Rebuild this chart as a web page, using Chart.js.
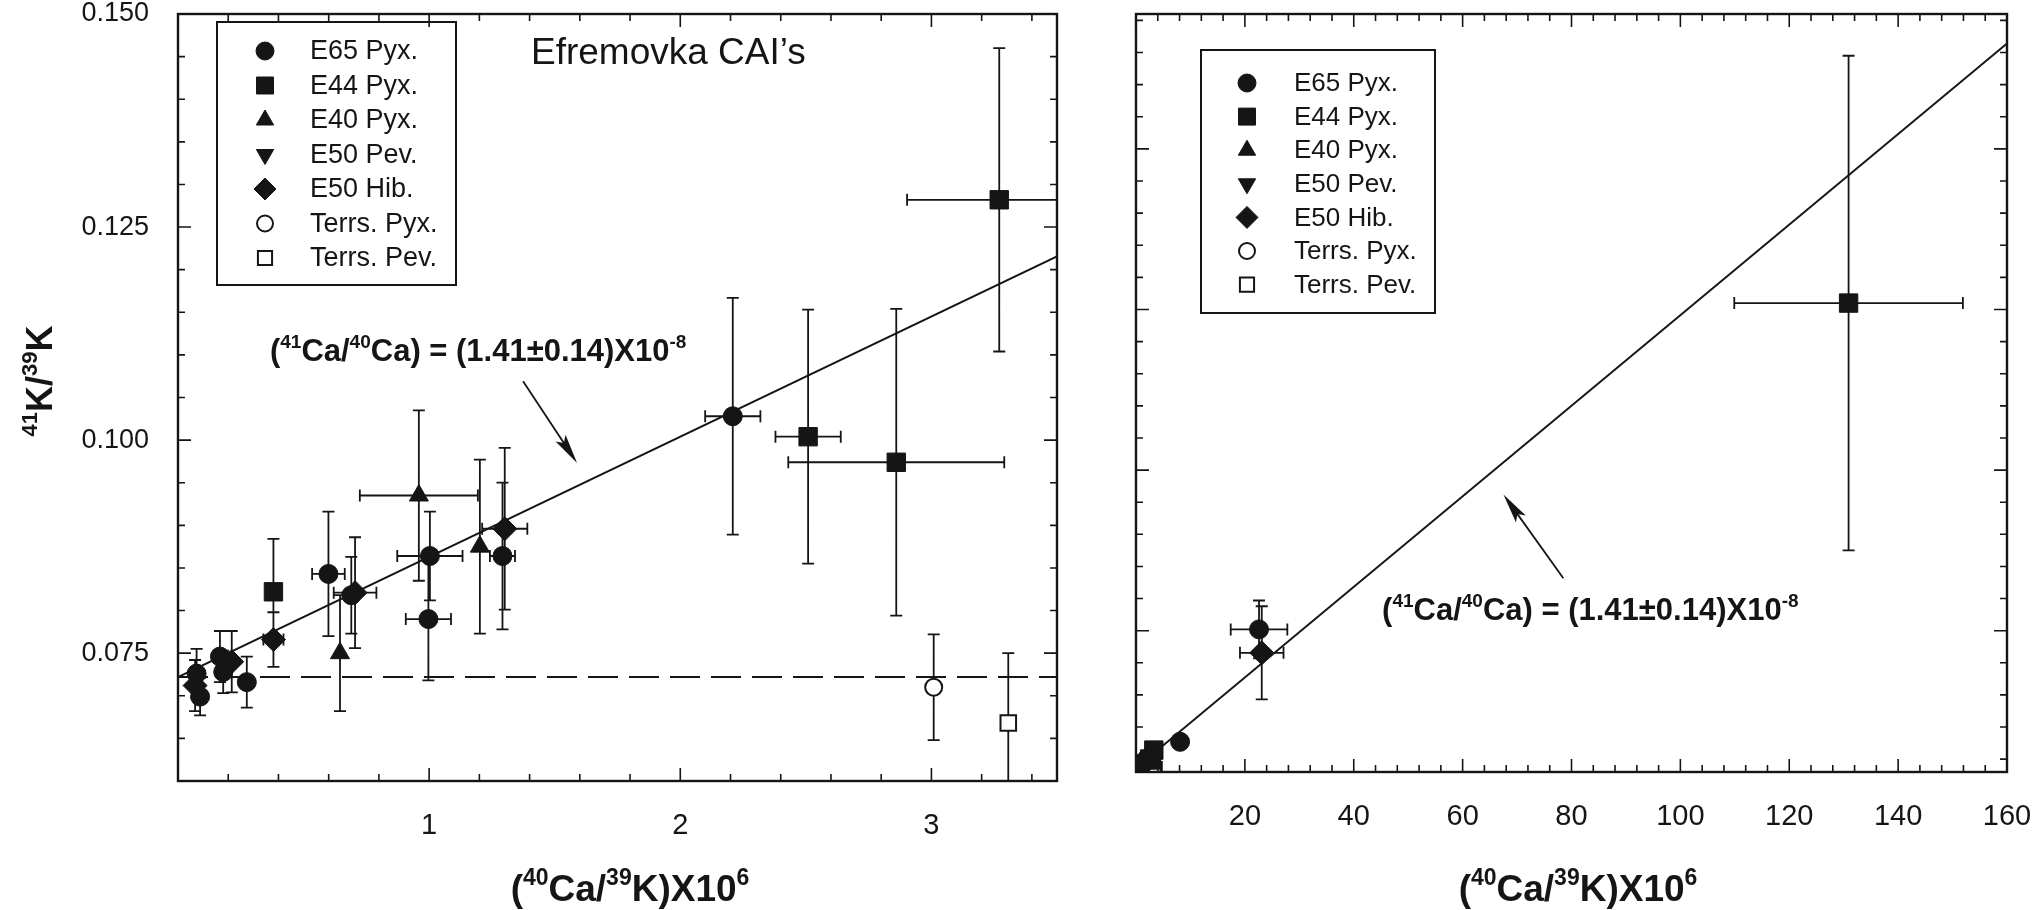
<!DOCTYPE html>
<html lang="en">
<head>
<meta charset="utf-8">
<title>41K/39K vs 40Ca/39K</title>
<script src="https://cdn.jsdelivr.net/npm/chart.js@4.4.1/dist/chart.umd.min.js"></script>
<style>
  html, body { margin: 0; padding: 0; background: #ffffff; }
  body { position: relative; width: 2043px; height: 910px; overflow: hidden; }
  canvas { position: absolute; top: 0; }
  #isochronLow { left: 0; }
  #isochronHigh { left: 1100px; }
</style>
</head>
<body>
<canvas id="isochronLow" width="1100" height="910"></canvas>
<canvas id="isochronHigh" width="943" height="910"></canvas>
<script>
const ink = '#151515';
const sans = '"Liberation Sans", Arial, Helvetica, sans-serif';

// Legend order
const seriesNames = ['E65 Pyx.', 'E44 Pyx.', 'E40 Pyx.', 'E50 Pev.', 'E50 Hib.', 'Terrs. Pyx.', 'Terrs. Pev.'];

// Measurements: [40Ca/39K x1e6, 41K/39K, x error, y error]
const e65Pyx = [
  [0.074, 0.0726, 0, 0.0029],
  [0.088, 0.0699, 0, 0.0022],
  [0.167, 0.0746, 0, 0.0030],
  [0.180, 0.0728, 0, 0.0025],
  [0.274, 0.0716, 0, 0.0030],
  [0.599, 0.0843, 0.065, 0.0073],
  [0.690, 0.0818, 0, 0.0045],
  [1.003, 0.0864, 0.13, 0.0052],
  [0.997, 0.0790, 0.09, 0.0072],
  [1.292, 0.0864, 0.05, 0.0086],
  [2.209, 0.1028, 0.11, 0.0139],
];
const e44Pyx = [
  [0.380, 0.0822, 0, 0.0062],
  [2.509, 0.1004, 0.13, 0.0149],
  [2.860, 0.0974, 0.43, 0.0180],
  [3.270, 0.1282, 0.367, 0.0178],
];
const e40Pyx = [
  [0.645, 0.0750, 0, 0.0068],
  [0.959, 0.0935, 0.235, 0.0100],
  [1.202, 0.0875, 0, 0.0102],
];
const e50Pev = [];
const e50Hib = [
  [0.068, 0.0712, 0, 0.0030],
  [0.214, 0.0740, 0, 0.0036],
  [0.380, 0.0766, 0.04, 0.0032],
  [0.705, 0.0821, 0.085, 0.0065],
  [1.301, 0.0896, 0.09, 0.0095],
];
const terrsPyx = [[3.009, 0.0710, 0, 0.0062]];
const terrsPev = [[3.306, 0.0668, 0, 0.0082]];

// Extra samples only on the wide-range plot
const e65PyxWide = [
  [8.1, 0.154, 0, 0],
  [22.6, 0.504, 5.2, 0.090],
];
const e44PyxWide = [[130.9, 1.520, 21, 0.770]];
const e50HibWide = [[23.1, 0.431, 4.0, 0.145]];

const lowSeries = [e65Pyx, e44Pyx, e40Pyx, e50Pev, e50Hib, terrsPyx, terrsPev];
const wideSeries = [
  e65Pyx.concat(e65PyxWide), e44Pyx.concat(e44PyxWide), e40Pyx, e50Pev,
  e50Hib.concat(e50HibWide), terrsPyx, terrsPev,
];

// Tick labels
const lowXTicks = [1, 2, 3];
const lowYTicks = [0.075, 0.100, 0.125, 0.150];
const wideXTicks = [20, 40, 60, 80, 100, 120, 140, 160];

// Terrestrial 41K/39K and the isochron slope quoted on the plot: 41Ca/40Ca = 1.41e-8
const terrestrialK = 0.0722;
const isochronSlope = 1.41e-8 * 1e6;

const markerStyles = [
  { pointStyle: 'circle', radius: 9.5, legendRadius: 9 },
  { pointStyle: 'rect', radius: 13, legendRadius: 12 },
  { pointStyle: 'triangle', radius: 11, legendRadius: 10 },
  { pointStyle: 'triangle', radius: 11, legendRadius: 10, rotation: 180 },
  { pointStyle: 'rectRot', radius: 12, legendRadius: 11 },
  { pointStyle: 'circle', radius: 8.5, legendRadius: 8, open: true },
  { pointStyle: 'rect', radius: 11, legendRadius: 10, open: true },
];

function markerDataset(rows, i) {
  const s = markerStyles[i];
  return {
    label: seriesNames[i],
    data: rows.map(([x, y]) => ({ x, y })),
    errors: rows.map(([, , dx, dy]) => [dx, dy]),
    pointStyle: s.pointStyle,
    pointRadius: s.radius,
    pointRotation: s.rotation || 0,
    pointBackgroundColor: s.open ? '#ffffff' : ink,
    pointBorderColor: ink,
    pointBorderWidth: s.open ? 2 : 1,
    order: 1,
  };
}

function fitDataset(xMax) {
  return {
    data: [{ x: 0, y: terrestrialK }, { x: xMax, y: terrestrialK + isochronSlope * xMax }],
    showLine: true,
    borderColor: ink,
    borderWidth: 2,
    pointRadius: 0,
    order: 5,
  };
}

// Draws text with superscript pieces: parts = [[text, isSup], ...]
function drawRich(ctx, parts, x, y, size, weight, align) {
  const supSize = Math.round(size * 0.62);
  const fontFor = sup => `${weight} ${sup ? supSize : size}px ${sans}`;
  let width = 0;
  parts.forEach(([t, sup]) => { ctx.font = fontFor(sup); width += ctx.measureText(t).width; });
  let cx = align === 'center' ? x - width / 2 : x;
  parts.forEach(([t, sup]) => {
    ctx.font = fontFor(sup);
    ctx.fillText(t, cx, sup ? y - size * 0.42 : y);
    cx += ctx.measureText(t).width;
  });
}

const errorBars = {
  id: 'errorBars',
  beforeDatasetsDraw(chart, args, o) {
    const { ctx, chartArea: a, scales: { x, y } } = chart;
    ctx.save();
    ctx.beginPath();
    ctx.rect(a.left, a.top, a.right - a.left, a.bottom - a.top);
    ctx.clip();
    ctx.strokeStyle = ink;
    ctx.lineWidth = o.width;
    ctx.beginPath();
    chart.data.datasets.forEach(ds => {
      if (!ds.errors) return;
      ds.data.forEach((p, i) => {
        const [dx, dy] = ds.errors[i];
        const px = x.getPixelForValue(p.x);
        const py = y.getPixelForValue(p.y);
        if (dy > 0) {
          const top = y.getPixelForValue(p.y + dy);
          const bot = y.getPixelForValue(p.y - dy);
          ctx.moveTo(px, top); ctx.lineTo(px, bot);
          ctx.moveTo(px - o.cap, top); ctx.lineTo(px + o.cap, top);
          ctx.moveTo(px - o.cap, bot); ctx.lineTo(px + o.cap, bot);
        }
        if (dx > 0) {
          const lo = x.getPixelForValue(p.x - dx);
          const hi = x.getPixelForValue(p.x + dx);
          ctx.moveTo(lo, py); ctx.lineTo(hi, py);
          ctx.moveTo(lo, py - o.cap); ctx.lineTo(lo, py + o.cap);
          ctx.moveTo(hi, py - o.cap); ctx.lineTo(hi, py + o.cap);
        }
      });
    });
    ctx.stroke();
    ctx.restore();
  }
};

// Box around the plot with inward ticks on all four sides
const frame = {
  id: 'frame',
  afterDatasetsDraw(chart, args, o) {
    const { ctx, chartArea: a, scales: { x, y } } = chart;
    const steps = (min, max, step) => {
      const out = [];
      for (let i = Math.ceil(min / step - 1e-6); i * step <= max + 1e-9; i++) out.push(i * step);
      return out;
    };
    const isMajor = (v, m) => Math.abs(v / m - Math.round(v / m)) < 1e-6;
    ctx.save();
    ctx.strokeStyle = ink;
    ctx.lineWidth = 2.4;
    ctx.strokeRect(a.left, a.top, a.right - a.left, a.bottom - a.top);
    ctx.lineWidth = 1.6;
    ctx.beginPath();
    steps(x.min, x.max, o.xStep).forEach(v => {
      const px = x.getPixelForValue(v);
      const len = isMajor(v, o.xMajor) ? o.major : o.minor;
      ctx.moveTo(px, a.bottom); ctx.lineTo(px, a.bottom - len);
      ctx.moveTo(px, a.top); ctx.lineTo(px, a.top + len);
    });
    steps(y.min, y.max, o.yStep).forEach(v => {
      const py = y.getPixelForValue(v);
      const len = isMajor(v, o.yMajor) ? o.major : o.minor;
      ctx.moveTo(a.left, py); ctx.lineTo(a.left + len, py);
      ctx.moveTo(a.right, py); ctx.lineTo(a.right - len, py);
    });
    ctx.stroke();
    ctx.restore();
  }
};

const boxLegend = {
  id: 'boxLegend',
  afterDraw(chart, args, o) {
    const { ctx } = chart;
    ctx.save();
    ctx.strokeStyle = ink;
    ctx.lineWidth = 2;
    ctx.strokeRect(o.box[0], o.box[1], o.box[2] - o.box[0], o.box[3] - o.box[1]);
    ctx.font = `${o.size}px ${sans}`;
    ctx.textBaseline = 'middle';
    ctx.textAlign = 'left';
    seriesNames.forEach((name, i) => {
      const s = markerStyles[i];
      const cy = o.firstRow + i * o.rowGap;
      ctx.fillStyle = s.open ? '#ffffff' : ink;
      ctx.strokeStyle = ink;
      ctx.lineWidth = s.open ? 2 : 1;
      Chart.helpers.drawPoint(ctx, {
        pointStyle: s.pointStyle, rotation: s.rotation || 0,
        radius: s.legendRadius, borderWidth: s.open ? 2 : 1,
      }, o.markerX, cy);
      ctx.fillStyle = ink;
      ctx.fillText(name, o.textX, cy + 1);
    });
    ctx.restore();
  }
};

// Free text (data or pixel anchored) and arrows
const notes = {
  id: 'notes',
  afterDraw(chart, args, o) {
    const { ctx, scales: { x, y } } = chart;
    ctx.save();
    ctx.fillStyle = ink;
    ctx.strokeStyle = ink;
    ctx.textAlign = 'left';
    ctx.textBaseline = 'alphabetic';
    o.texts.forEach(t => {
      const px = t.data ? x.getPixelForValue(t.data[0]) : t.pixel[0];
      const py = t.data ? y.getPixelForValue(t.data[1]) : t.pixel[1];
      ctx.save();
      ctx.translate(px, py);
      if (t.rotate) ctx.rotate(t.rotate);
      drawRich(ctx, t.parts, 0, 0, t.size, t.weight, t.align);
      ctx.restore();
    });
    o.arrows.forEach(ar => {
      const x0 = x.getPixelForValue(ar.from[0]), y0 = y.getPixelForValue(ar.from[1]);
      const x1 = x.getPixelForValue(ar.to[0]), y1 = y.getPixelForValue(ar.to[1]);
      const c = Math.cos(Math.atan2(y1 - y0, x1 - x0));
      const s = Math.sin(Math.atan2(y1 - y0, x1 - x0));
      const len = 30, half = 6;
      ctx.lineWidth = 1.8;
      ctx.beginPath();
      ctx.moveTo(x0, y0);
      ctx.lineTo(x1 - c * len * 0.6, y1 - s * len * 0.6);
      ctx.stroke();
      ctx.beginPath();
      ctx.moveTo(x1, y1);
      ctx.lineTo(x1 - c * len + s * half, y1 - s * len - c * half);
      ctx.lineTo(x1 - c * len * 0.8, y1 - s * len * 0.8);
      ctx.lineTo(x1 - c * len - s * half, y1 - s * len + c * half);
      ctx.closePath();
      ctx.fill();
    });
    ctx.restore();
  }
};

const isochronLabel = [['(', 0], ['41', 1], ['Ca/', 0], ['40', 1], ['Ca) = (1.41\u00b10.14)X10', 0], ['-8', 1]];
const xTitle = [['(', 0], ['40', 1], ['Ca/', 0], ['39', 1], ['K)X10', 0], ['6', 1]];
const yTitle = [['41', 1], ['K/', 0], ['39', 1], ['K', 0]];

// Axes with fixed gutters; label overflow padding is dropped so the plot box stays put
function scales(xMin, xMax, xTicks, yMin, yMax, yTicks, fit) {
  return {
    x: {
      type: 'linear', position: 'bottom', min: xMin, max: xMax,
      grid: { display: false, drawTicks: false }, border: { display: false },
      afterBuildTicks: s => { s.ticks = xTicks.map(v => ({ value: v })); },
      afterFit: s => { s.height = fit.bottom; s.paddingLeft = 0; s.paddingRight = 0; },
      ticks: { color: ink, font: { family: sans, size: 29 }, padding: 28, maxRotation: 0, autoSkip: false },
    },
    y: {
      type: 'linear', position: 'left', min: yMin, max: yMax,
      grid: { display: false, drawTicks: false }, border: { display: false },
      afterBuildTicks: s => { s.ticks = yTicks.map(v => ({ value: v })); },
      afterFit: s => { s.width = fit.left; s.paddingTop = 0; s.paddingBottom = 0; },
      ticks: {
        display: yTicks.length > 0, color: ink, font: { family: sans, size: 27 },
        padding: 29, autoSkip: false, callback: v => v.toFixed(3),
      },
    },
  };
}

Chart.defaults.font.family = sans;
Chart.defaults.color = ink;

// Low ratio range, with the terrestrial value dashed
new Chart(document.getElementById('isochronLow'), {
  type: 'scatter',
  data: {
    datasets: lowSeries.map(markerDataset).concat([
      fitDataset(3.5),
      {
        data: [{ x: 0, y: terrestrialK }, { x: 3.5, y: terrestrialK }],
        showLine: true, borderColor: ink, borderWidth: 2, borderDash: [30, 11], pointRadius: 0, order: 6,
      },
    ]),
  },
  options: {
    responsive: false, animation: false, devicePixelRatio: 1,
    layout: { padding: { left: 0, top: 13, right: 43, bottom: 0 } },
    scales: scales(0, 3.5, lowXTicks, 0.06, 0.15, lowYTicks, { left: 178, bottom: 129 }),
    plugins: {
      legend: { display: false },
      tooltip: { enabled: false },
      errorBars: { width: 1.8, cap: 6 },
      frame: { xStep: 0.2, xMajor: 1, yStep: 0.005, yMajor: 0.025, major: 13, minor: 7 },
      boxLegend: { box: [217, 22, 456, 285], firstRow: 51, rowGap: 34.5, markerX: 265, textX: 310, size: 27 },
      notes: {
        texts: [
          { parts: isochronLabel, data: [0.366, 0.1093], size: 31, weight: 'bold', align: 'left' },
          { parts: [['Efremovka CAI\u2019s', 0]], pixel: [531, 64], size: 37, weight: 'normal', align: 'left' },
          { parts: xTitle, pixel: [630, 901], size: 37, weight: 'bold', align: 'center' },
          { parts: yTitle, pixel: [52, 381], size: 36, weight: 'bold', align: 'center', rotate: -Math.PI / 2 },
        ],
        arrows: [{ from: [1.374, 0.1069], to: [1.589, 0.0973] }],
      },
    },
  },
  plugins: [errorBars, frame, boxLegend, notes],
});

// Full ratio range
new Chart(document.getElementById('isochronHigh'), {
  type: 'scatter',
  data: { datasets: wideSeries.map(markerDataset).concat([fitDataset(160)]) },
  options: {
    responsive: false, animation: false, devicePixelRatio: 1,
    layout: { padding: { left: 0, top: 13, right: 36, bottom: 0 } },
    scales: scales(0, 160, wideXTicks, 0.06, 2.42, [], { left: 36, bottom: 138 }),
    plugins: {
      legend: { display: false },
      tooltip: { enabled: false },
      errorBars: { width: 1.8, cap: 6 },
      frame: { xStep: 4, xMajor: 20, yStep: 0.1, yMajor: 0.5, major: 13, minor: 7 },
      boxLegend: { box: [101, 50, 335, 313], firstRow: 83, rowGap: 33.6, markerX: 147, textX: 194, size: 26 },
      notes: {
        texts: [
          { parts: isochronLabel, data: [45.2, 0.533], size: 31, weight: 'bold', align: 'left' },
          { parts: xTitle, pixel: [478, 901], size: 37, weight: 'bold', align: 'center' },
        ],
        arrows: [{ from: [78.5, 0.663], to: [67.5, 0.924] }],
      },
    },
  },
  plugins: [errorBars, frame, boxLegend, notes],
});
</script>
</body>
</html>
